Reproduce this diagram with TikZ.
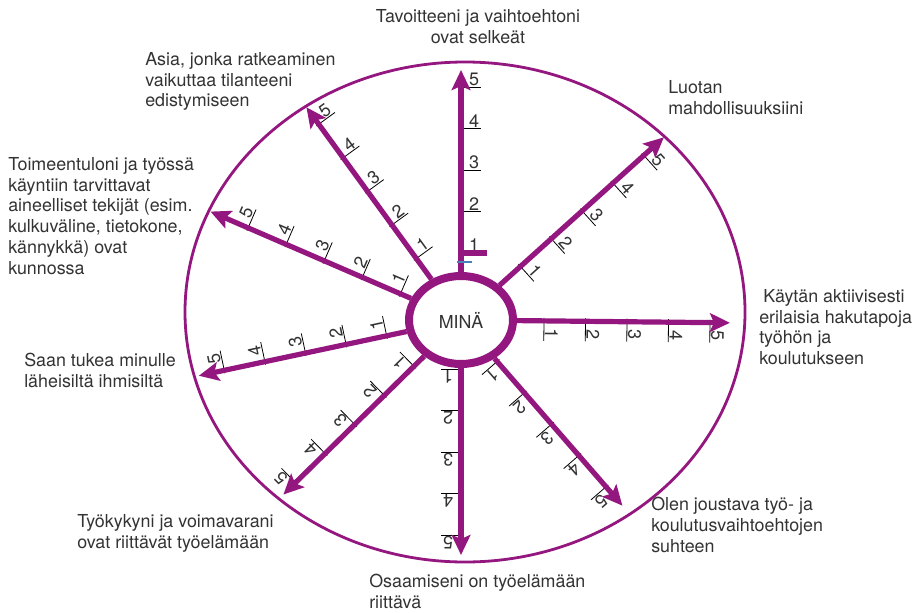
\documentclass[tikz,border=0pt]{standalone}
\usepackage{fontspec}
\setmainfont{TeX Gyre Heros}
\usetikzlibrary{arrows.meta,shapes.geometric}
\definecolor{vio}{RGB}{148,22,127}
\definecolor{txt}{RGB}{51,51,51}
\definecolor{bluedash}{RGB}{70,130,190}
\tikzset{
  lbl/.style={font=\fontsize{13.4pt}{15.6pt}\selectfont, text=txt, align=left, inner sep=0pt},
  num/.style={font=\fontsize{13.5pt}{15pt}\selectfont, text=txt, inner sep=0pt},
  tickline/.style={draw=black, line width=0.6pt},
  spoke/.style={draw=vio, line width=3.9pt, -{Stealth[length=15pt,width=14pt,inset=3pt]}},
  ring/.style={draw=vio, line width=2.1pt},
  hub/.style={ellipse, draw=vio, line width=6pt, fill=white, minimum width=78pt, minimum height=66pt, inner sep=0pt, font=\fontsize{13.4pt}{15pt}\selectfont, text=txt}
}
\newcommand{\spk}[4]{%
  \begin{scope}[shift={(461,292)}, rotate=#1-90, transform shape]
    \coordinate (#4) at (0,#3);
    \foreach \k in {1,...,5} {
      \pgfmathsetmacro{\dd}{#2+41.5*(\k-1)}
      \draw[tickline] (-3,\dd) -- (20,\dd);
      \node[num, anchor=south] (#4n\k) at (13,\dd+1) {\k};
    }
  \end{scope}
  \draw[spoke] (mina) -- (#4);
}
\begin{document}
\begin{tikzpicture}[x=0.75pt,y=0.75pt]
\useasboundingbox (0,0) rectangle (919,612);
\draw[ring] (465,300) ellipse [x radius=280, y radius=250];
\node[hub] (mina) at (461,292) {MINÄ};
\spk{90}{67}{250}{up}
\spk{42}{80}{273}{ur}
\spk{-0.6}{83}{269}{rr}
\spk{-49}{55}{246}{lr}
\spk{-90}{49}{235}{dn}
\spk{224.5}{66}{249}{ll}
\spk{192}{76}{268}{lf}
\spk{156.6}{66}{273}{ul}
\spk{126}{76}{263}{as}
% special marks on the upward spoke
\draw[draw=vio, line width=4pt] (upn1.south west) ++(-9,-1) coordinate (ua) -- ++(27,0) coordinate (ub);
\draw[draw=bluedash, line width=1.6pt] (457,350) -- (472,350);
% labels
\node[lbl, align=center, anchor=north] (t1) at (478,603) {Tavoitteeni ja vaihtoehtoni\\ovat selkeät};
\node[lbl, anchor=north west] (t2) at (145,560) {Asia, jonka ratkeaminen\\vaikuttaa tilanteeni\\edistymiseen};
\node[lbl, anchor=north west] (t3) at (8,455) {Toimeentuloni ja työssä\\käyntiin tarvittavat\\aineelliset tekijät (esim.\\kulkuväline, tietokone,\\kännykkä) ovat\\kunnossa};
\node[lbl, anchor=north west] (t4) at (668,532) {Luotan\\mahdollisuuksiini};
\node[lbl, anchor=north west] (t5) at (759,323) {\hspace*{3pt}Käytän aktiivisesti\\erilaisia hakutapoja\\työhön ja\\koulutukseen};
\node[lbl, anchor=north west] (t6) at (24,259) {Saan tukea minulle\\läheisiltä ihmisiltä};
\node[lbl, anchor=north west] (t7) at (77,98) {Työkykyni ja voimavarani\\ovat riittävät työelämään};
\node[lbl, anchor=north west] (t8) at (369,38) {Osaamiseni on työelämään\\riittävä};
\node[lbl, anchor=north west] (t9) at (651,115) {Olen joustava työ- ja\\koulutusvaihtoehtojen\\suhteen};
\end{tikzpicture}
\end{document}
